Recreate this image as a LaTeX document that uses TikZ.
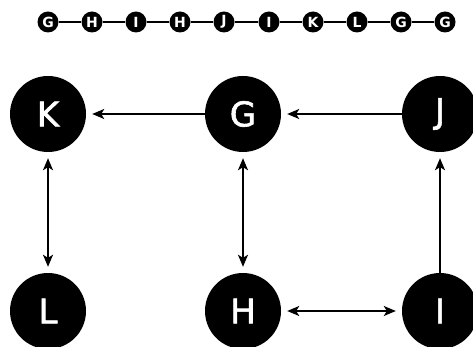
\documentclass[tikz,border=0pt]{standalone}
\usepackage{fontspec}
\setmainfont{DejaVu Sans}
\newfontfamily\nodefont[FakeBold=1.8]{DejaVu Sans}
\usetikzlibrary{arrows.meta}

\begin{document}
\begin{tikzpicture}[x=1pt,y=-1pt]
        \useasboundingbox (0,0) rectangle (473,347);
        % path along the top
        \begin{scope}[every node/.style={circle,fill=black,text=white,minimum size=21pt,inner sep=0,font=\fontsize{14}{14}\selectfont\bfseries}]
                \node (P1) at (48,22) {G};
                \node (P2) at (92,22) {H};
                \node (P3) at (136,22) {I};
                \node (P4) at (180,22) {H};
                \node (P5) at (224,22) {J};
                \node (P6) at (269,22) {I};
                \node (P7) at (313,22) {K};
                \node (P8) at (357,22) {L};
                \node (P9) at (401,22) {G};
                \node (P10) at (445,22) {G};
        \end{scope}
        \draw[line width=2pt] (P1) -- (P2) -- (P3) -- (P4) -- (P5) -- (P6) -- (P7) -- (P8) -- (P9) -- (P10);
        % the graph
        \begin{scope}[every node/.style={circle,fill=black,text=white,minimum size=76pt,inner sep=0,font=\nodefont\fontsize{34}{34}\selectfont}]
                \node (K) at (48,114) {K};
                \node (G) at (243,114) {G};
                \node (J) at (440,114) {J};
                \node (L) at (48,311) {L};
                \node (H) at (243,311) {H};
                \node (I) at (440,311) {I};
        \end{scope}
        \tikzset{tip/.tip={Stealth[length=12pt,width=10pt,inset=3pt]}}
        \begin{scope}[every path/.style={line width=1.6pt, -tip, shorten >=6pt}]
                \path (G) edge (K);
                \path (J) edge (G);
                \path (I) edge (J);
                \path (K) edge [tip-tip, shorten <=6pt] (L);
                \path (G) edge [tip-tip, shorten <=6pt] (H);
                \path (H) edge [tip-tip, shorten <=6pt] (I);
        \end{scope}
\end{tikzpicture}
\end{document}
